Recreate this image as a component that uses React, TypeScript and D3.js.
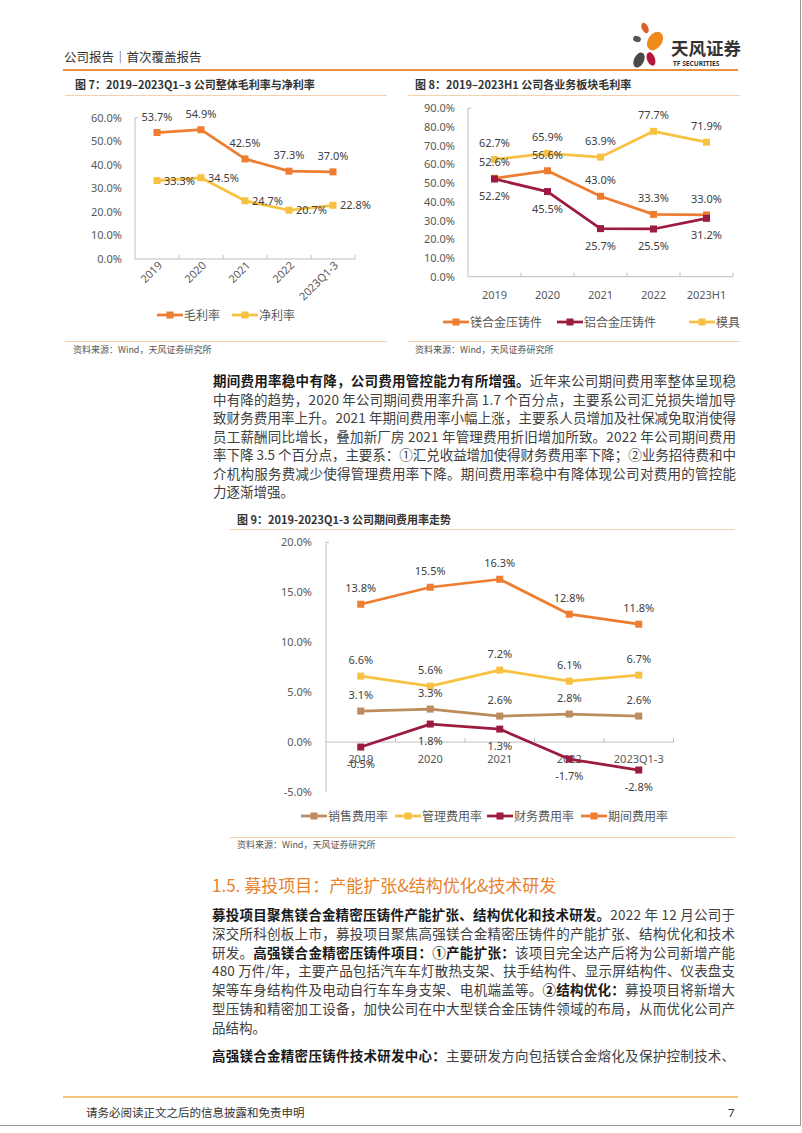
import React from 'react';
import * as d3 from 'd3';

const FONT_CJK = '"Noto Sans CJK SC", "Noto Sans", sans-serif';
const FONT_NUM = '"Noto Sans", "Noto Sans CJK SC", sans-serif';

const C_ORANGE = '#ED7D31';
const C_YELLOW = '#F7C242';
const C_RED = '#9C1C40';
const C_TAN = '#BC8C5C';
const C_AXIS = '#BFBFBF';
const C_TICK = '#595959';
const C_LABEL = '#404040';

// ---------- Figure 7 ----------
const fig7Categories = ['2019', '2020', '2021', '2022', '2023Q1-3'];
const fig7Gross = [53.7, 54.9, 42.5, 37.3, 37.0];
const fig7Net = [33.3, 34.5, 24.7, 20.7, 22.8];
const fig7Ticks = [0, 10, 20, 30, 40, 50, 60];

// ---------- Figure 8 ----------
const fig8Categories = ['2019', '2020', '2021', '2022', '2023H1'];
const fig8Mg = [52.6, 56.6, 43.0, 33.3, 33.0];
const fig8Al = [52.2, 45.5, 25.7, 25.5, 31.2];
const fig8Mold = [62.7, 65.9, 63.9, 77.7, 71.9];
const fig8Ticks = [0, 10, 20, 30, 40, 50, 60, 70, 80, 90];

// ---------- Figure 9 ----------
const fig9Categories = ['2019', '2020', '2021', '2022', '2023Q1-3'];
const fig9Sales = [3.1, 3.3, 2.6, 2.8, 2.6];
const fig9Admin = [6.6, 5.6, 7.2, 6.1, 6.7];
const fig9Fin = [-0.5, 1.8, 1.3, -1.7, -2.8];
const fig9Period = [13.8, 15.5, 16.3, 12.8, 11.8];
const fig9Ticks = [-5, 0, 5, 10, 15, 20];

type Series = { name: string; values: number[]; color: string; pos: 'above' | 'below' | 'right' };

type ChartCfg = {
  categories: string[];
  ticks: number[];
  series: Series[];
  x0: number; x1: number;
  yMaxPx: number; yMinPx: number;
  yLabelX: number;
  rotated: boolean;
  xLabelY: number;
  legendY: number;
  legendX: number[];
};

function LineChart({ cfg }: { cfg: ChartCfg }) {
  const x = d3.scaleBand<string>().domain(cfg.categories).range([cfg.x0, cfg.x1]);
  const tmin = d3.min(cfg.ticks) as number;
  const tmax = d3.max(cfg.ticks) as number;
  const y = d3.scaleLinear().domain([tmin, tmax]).range([cfg.yMinPx, cfg.yMaxPx]);
  const cx = (c: string) => (x(c) as number) + x.bandwidth() / 2;
  const zeroY = y(Math.max(0, tmin));
  const line = d3.line<number>().x((_, i) => cx(cfg.categories[i])).y((d) => y(d));
  const ms = 7;
  return (
    <g>
      {/* y axis */}
      <line x1={cfg.x0} x2={cfg.x0} y1={y(tmax)} y2={y(tmin)} stroke={C_AXIS} strokeWidth={1} />
      <line x1={cfg.x0} x2={cfg.x0 + 3} y1={y(tmax)} y2={y(tmax)} stroke={C_AXIS} strokeWidth={1} />
      {cfg.ticks.map((t) => (
        <text key={t} x={cfg.yLabelX} y={y(t) + 4} textAnchor="end" fontSize={11} fill={C_TICK} fontFamily={FONT_NUM}>
          {t.toFixed(1) + '%'}
        </text>
      ))}
      {/* x axis */}
      <line x1={cfg.x0} x2={cfg.x1} y1={zeroY} y2={zeroY} stroke={C_AXIS} strokeWidth={1} />
      {cfg.categories.map((c) => (
        <line key={c} x1={(x(c) as number) + x.bandwidth()} x2={(x(c) as number) + x.bandwidth()} y1={zeroY} y2={zeroY - 4} stroke={C_AXIS} strokeWidth={1} />
      ))}
      {cfg.categories.map((c) =>
        cfg.rotated ? (
          <text key={c} transform={`translate(${cx(c) + 6},${cfg.xLabelY}) rotate(-45)`} textAnchor="end" fontSize={11} fill={C_TICK} fontFamily={FONT_NUM}>
            {c}
          </text>
        ) : (
          <text key={c} x={cx(c)} y={cfg.xLabelY} textAnchor="middle" fontSize={11} fill={C_TICK} fontFamily={FONT_NUM}>
            {c}
          </text>
        )
      )}
      {/* series */}
      {cfg.series.map((s) => (
        <g key={s.name}>
          <path d={line(s.values) as string} fill="none" stroke={s.color} strokeWidth={2.75} strokeLinejoin="round" />
          {s.values.map((v, i) => (
            <rect key={i} x={cx(cfg.categories[i]) - ms / 2} y={y(v) - ms / 2} width={ms} height={ms} fill={s.color} />
          ))}
        </g>
      ))}
      {cfg.series.map((s) =>
        s.values.map((v, i) => {
          const px = cx(cfg.categories[i]);
          const py = y(v);
          const txt = v.toFixed(1) + '%';
          if (s.pos === 'right')
            return (
              <text key={s.name + i} x={px + 7} y={py + 4} fontSize={11} fill={C_LABEL} fontFamily={FONT_NUM}>{txt}</text>
            );
          return (
            <text key={s.name + i} x={px} y={s.pos === 'above' ? py - 12 : py + 21} textAnchor="middle" fontSize={11} fill={C_LABEL} fontFamily={FONT_NUM}>
              {txt}
            </text>
          );
        })
      )}
      {/* legend */}
      {cfg.series.map((s, i) => {
        const lx = cfg.legendX[i];
        return (
          <g key={'lg' + s.name}>
            <line x1={lx} x2={lx + 26} y1={cfg.legendY} y2={cfg.legendY} stroke={s.color} strokeWidth={2.75} />
            <rect x={lx + 13 - ms / 2} y={cfg.legendY - ms / 2} width={ms} height={ms} fill={s.color} />
            <text x={lx + 27} y={cfg.legendY + 4.5} fontSize={12} fill={C_TICK} fontFamily={FONT_CJK}>{s.name}</text>
          </g>
        );
      })}
    </g>
  );
}

const fig7: ChartCfg = {
  categories: fig7Categories,
  ticks: fig7Ticks,
  series: [
    { name: '毛利率', values: fig7Gross, color: C_ORANGE, pos: 'above' },
    { name: '净利率', values: fig7Net, color: C_YELLOW, pos: 'right' },
  ],
  x0: 135, x1: 355, yMaxPx: 117.7, yMinPx: 259,
  yLabelX: 122, rotated: true, xLabelY: 266,
  legendY: 315, legendX: [157, 232],
};

const fig8: ChartCfg = {
  categories: fig8Categories,
  ticks: fig8Ticks,
  series: [
    { name: '镁合金压铸件', values: fig8Mg, color: C_ORANGE, pos: 'above' },
    { name: '铝合金压铸件', values: fig8Al, color: C_RED, pos: 'below' },
    { name: '模具', values: fig8Mold, color: C_YELLOW, pos: 'above' },
  ],
  x0: 468, x1: 733, yMaxPx: 108.3, yMinPx: 276.7,
  yLabelX: 455, rotated: false, xLabelY: 298.5,
  legendY: 322, legendX: [443, 557, 689],
};

const fig9: ChartCfg = {
  categories: fig9Categories,
  ticks: fig9Ticks,
  series: [
    { name: '销售费用率', values: fig9Sales, color: C_TAN, pos: 'above' },
    { name: '管理费用率', values: fig9Admin, color: C_YELLOW, pos: 'above' },
    { name: '财务费用率', values: fig9Fin, color: C_RED, pos: 'below' },
    { name: '期间费用率', values: fig9Period, color: C_ORANGE, pos: 'above' },
  ],
  x0: 326, x1: 673.5, yMaxPx: 542.3, yMinPx: 792,
  yLabelX: 312, rotated: false, xLabelY: 762.5,
  legendY: 816, legendX: [301, 395, 487, 581],
};

type Seg = { t: string; b?: boolean };
type Line = { segs: Seg[]; full: boolean };

const para1: Line[] = [
  { segs: [{ t: '期间费用率稳中有降，公司费用管控能力有所增强。', b: true }, { t: '近年来公司期间费用率整体呈现稳' }], full: true },
  { segs: [{ t: '中有降的趋势，2020 年公司期间费用率升高 1.7 个百分点，主要系公司汇兑损失增加导' }], full: true },
  { segs: [{ t: '致财务费用率上升。2021 年期间费用率小幅上涨，主要系人员增加及社保减免取消使得' }], full: true },
  { segs: [{ t: '员工薪酬同比增长，叠加新厂房 2021 年管理费用折旧增加所致。2022 年公司期间费用' }], full: true },
  { segs: [{ t: '率下降 3.5 个百分点，主要系：①汇兑收益增加使得财务费用率下降；②业务招待费和中' }], full: true },
  { segs: [{ t: '介机构服务费减少使得管理费用率下降。期间费用率稳中有降体现公司对费用的管控能' }], full: true },
  { segs: [{ t: '力逐渐增强。' }], full: false },
];

const para2: Line[] = [
  { segs: [{ t: '募投项目聚焦镁合金精密压铸件产能扩张、结构优化和技术研发。', b: true }, { t: '2022 年 12 月公司于' }], full: true },
  { segs: [{ t: '深交所科创板上市，募投项目聚焦高强镁合金精密压铸件的产能扩张、结构优化和技术' }], full: true },
  { segs: [{ t: '研发。' }, { t: '高强镁合金精密压铸件项目：①产能扩张：', b: true }, { t: '该项目完全达产后将为公司新增产能' }], full: true },
  { segs: [{ t: '480 万件/年，主要产品包括汽车车灯散热支架、扶手结构件、显示屏结构件、仪表盘支' }], full: true },
  { segs: [{ t: '架等车身结构件及电动自行车车身支架、电机端盖等。' }, { t: '②结构优化：', b: true }, { t: '募投项目将新增大' }], full: true },
  { segs: [{ t: '型压铸和精密加工设备，加快公司在中大型镁合金压铸件领域的布局，从而优化公司产' }], full: true },
  { segs: [{ t: '品结构。' }], full: false },
];

const para3: Line[] = [
  { segs: [{ t: '高强镁合金精密压铸件技术研发中心：', b: true }, { t: '主要研发方向包括镁合金熔化及保护控制技术、' }], full: true },
];

function Paragraph({ lines, x, y0, lh, width }: { lines: Line[]; x: number; y0: number; lh: number; width: number }) {
  return (
    <g>
      {lines.map((ln, i) => (
        <text
          key={i}
          x={x}
          y={y0 + i * lh}
          fontSize={13.5}
          fontFamily={FONT_CJK}
          fill="#404040"
          {...(ln.full ? { textLength: width, lengthAdjust: 'spacing' } : {})}
        >
          {ln.segs.map((s, j) => (
            <tspan key={j} fontWeight={s.b ? 'bold' : 'normal'} fill={s.b ? '#1a1a1a' : '#404040'}>
              {s.t}
            </tspan>
          ))}
        </text>
      ))}
    </g>
  );
}

function Logo() {
  return (
    <g>
      <ellipse cx={645} cy={28} rx={3.2} ry={5.5} transform="rotate(-25 645 28)" fill="#D9602A" />
      <ellipse cx={637} cy={39} rx={4} ry={3} transform="rotate(20 637 39)" fill="#555" />
      <ellipse cx={655} cy={41} rx={7} ry={10} transform="rotate(35 655 41)" fill="#F08A1C" />
      <ellipse cx={651} cy={59} rx={4} ry={7} transform="rotate(-20 651 59)" fill="#B5163B" />
      <ellipse cx={639} cy={60} rx={5} ry={8} transform="rotate(25 639 60)" fill="#4A4A4A" />
      <text x={671} y={55} fontSize={17.5} fontWeight="bold" fill="#333" fontFamily={FONT_CJK}>天风证券</text>
      <text x={673} y={65.5} fontSize={6.6} fontWeight="bold" fill="#333" fontFamily={FONT_NUM}>TF SECURITIES</text>
    </g>
  );
}

export default function App() {
  return (
    <svg
      width={802}
      height={1133}
      viewBox="0 0 802 1133"
      style={{ position: 'absolute', left: 0, top: 0, background: '#fff' }}
    >
      <rect x={0} y={0} width={802} height={1133} fill="#fff" />
      {/* page frame */}
      <line x1={800.5} x2={800.5} y1={0} y2={1126} stroke="#9a9a9a" strokeWidth={1} />
      <line x1={0} x2={801} y1={1125.5} y2={1125.5} stroke="#9a9a9a" strokeWidth={1} />

      {/* header */}
      <text x={64} y={61.5} fontSize={12.5} fill="#333" fontFamily={FONT_CJK}>公司报告｜首次覆盖报告</text>
      <Logo />
      <line x1={63} x2={738} y1={70} y2={70} stroke="#E8913A" strokeWidth={2} />

      {/* fig titles */}
      <text x={75} y={89} fontSize={11} fontWeight="bold" fill="#333" fontFamily={FONT_CJK}>图 7：2019–2023Q1–3 公司整体毛利率与净利率</text>
      <line x1={65} x2={387} y1={95.5} y2={95.5} stroke="#F6CFAE" strokeWidth={1} />
      <text x={415} y={89} fontSize={11} fontWeight="bold" fill="#333" fontFamily={FONT_CJK}>图 8：2019–2023H1 公司各业务板块毛利率</text>
      <line x1={408} x2={740} y1={95.5} y2={95.5} stroke="#F6CFAE" strokeWidth={1} />

      <LineChart cfg={fig7} />
      <LineChart cfg={fig8} />

      <line x1={65} x2={387} y1={341.5} y2={341.5} stroke="#F6CFAE" strokeWidth={1} />
      <text x={73} y={353} fontSize={9} fill="#555" fontFamily={FONT_CJK}>资料来源：Wind，天风证券研究所</text>
      <line x1={408} x2={740} y1={341.5} y2={341.5} stroke="#F6CFAE" strokeWidth={1} />
      <text x={415} y={353} fontSize={9} fill="#555" fontFamily={FONT_CJK}>资料来源：Wind，天风证券研究所</text>

      <Paragraph lines={para1} x={213} y0={386} lh={18.5} width={523} />

      <text x={237} y={524} fontSize={11} fontWeight="bold" fill="#333" fontFamily={FONT_CJK}>图 9：2019-2023Q1-3 公司期间费用率走势</text>
      <line x1={230} x2={735} y1={529.5} y2={529.5} stroke="#F6CFAE" strokeWidth={1} />

      <LineChart cfg={fig9} />

      <line x1={230} x2={735} y1={837.5} y2={837.5} stroke="#F6CFAE" strokeWidth={1} />
      <text x={237} y={848} fontSize={9} fill="#555" fontFamily={FONT_CJK}>资料来源：Wind，天风证券研究所</text>

      <text x={212} y={892} fontSize={17} fill="#E8822A" fontFamily={FONT_CJK}>1.5. 募投项目：产能扩张&amp;结构优化&amp;技术研发</text>

      <Paragraph lines={para2} x={212} y0={920} lh={18.8} width={523} />
      <Paragraph lines={para3} x={212} y0={1061} lh={18.8} width={523} />

      {/* footer */}
      <line x1={63} x2={738} y1={1097} y2={1097} stroke="#F2B04E" strokeWidth={1.5} />
      <text x={86} y={1117} fontSize={11.5} fill="#333" fontFamily={FONT_CJK}>请务必阅读正文之后的信息披露和免责申明</text>
      <text x={728} y={1117} fontSize={11.5} fill="#333" fontFamily={FONT_NUM}>7</text>
    </svg>
  );
}
